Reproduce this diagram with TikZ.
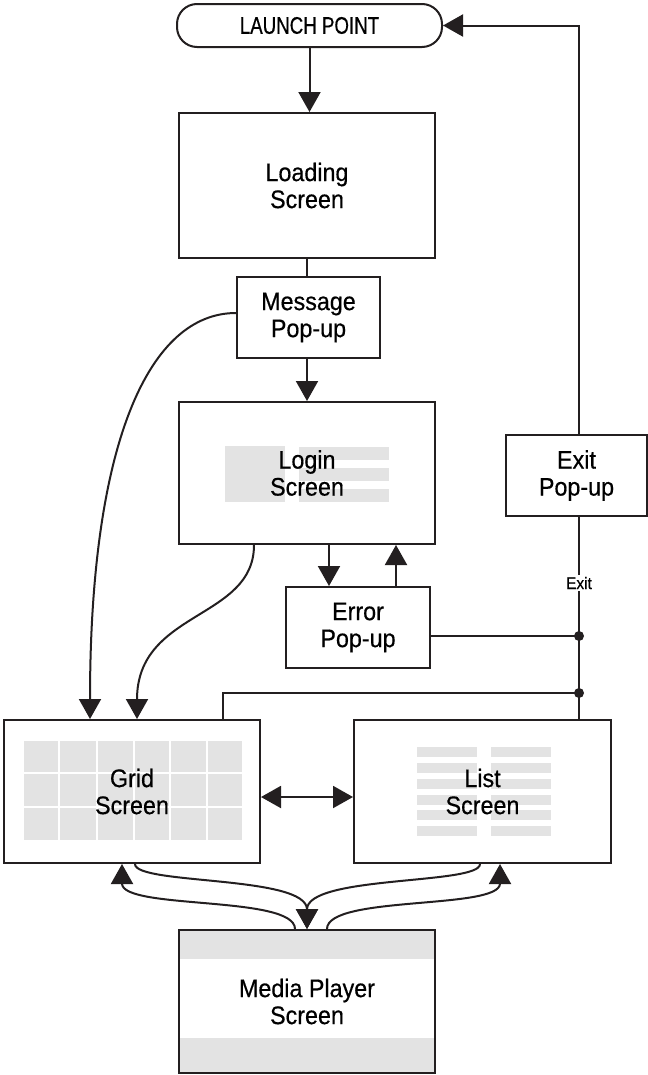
\documentclass[tikz,border=0pt]{standalone}
\usepackage{fontspec}
\setmainfont{Liberation Sans}[FakeStretch=0.92,FakeBold=0.5]
\newfontfamily\launchfont{Liberation Sans}[FakeStretch=0.78,FakeBold=0.5]
\usetikzlibrary{arrows.meta}
\definecolor{ink}{HTML}{231F20}
\definecolor{panelgray}{HTML}{E3E3E3}
\newcommand{\mainfs}{\fontsize{19}{20.25}\selectfont}
\begin{document}
\begin{tikzpicture}[x=0.75pt,y=-0.75pt,
  box/.style={draw=ink, line width=1.5pt, align=center, inner sep=0pt, font=\mainfs, text=black},
  link/.style={draw=ink, line width=1.5pt},
  arr/.style={link, -{Triangle[width=16.5pt,length=15pt]}},
  darr/.style={link, {Triangle[width=16.5pt,length=15pt]}-{Triangle[width=16.5pt,length=15pt]}},
  dot/.style={fill=ink},
  panel/.style={fill=panelgray}]
\useasboundingbox (0,0) rectangle (648,1075);

% gray decorations
\fill[panel] (225,446) rectangle (285,502);
\fill[panel] (299,447) rectangle (389,460);
\fill[panel] (299,468) rectangle (389,481);
\fill[panel] (299,489) rectangle (389,502);
\fill[panel] (24,741) rectangle (242,840);
\foreach \x in {59.3,96.7,134,170,206.7}
  \draw[white, line width=1.5pt] (\x,741) -- (\x,840);
\foreach \y in {773,807}
  \draw[white, line width=1.5pt] (24,\y) -- (242,\y);
\foreach \y in {747,763,779,794.5,810,826} {
  \fill[panel] (417,\y) rectangle (477,{\y+10});
  \fill[panel] (491,\y) rectangle (551,{\y+10});
}
\fill[panel] (179,930) rectangle (435,959);
\fill[panel] (179,1038) rectangle (435,1073);

% nodes
\node[box, minimum width=198.75pt, minimum height=32.25pt, rounded corners=15pt,
      font=\launchfont\fontsize{18}{20}\selectfont] (launch) at (309.5,25.5) {LAUNCH POINT};
\node[box, minimum width=192pt, minimum height=108.75pt] (load) at (307,185.5) {Loading\\Screen};
\node[box, minimum width=107.25pt, minimum height=60.75pt] (msg) at (308.5,317.5) {Message\\Pop-up};
\node[box, minimum width=192pt, minimum height=106.5pt] (login) at (307,473) {Login\\Screen};
\node[box, minimum width=108pt, minimum height=60.75pt] (error) at (358,627.5) {Error\\Pop-up};
\node[box, minimum width=105.75pt, minimum height=60.75pt] (exit) at (576.5,475.5) {Exit\\Pop-up};
\node[box, minimum width=192pt, minimum height=107.25pt] (grid) at (132,791.5) {Grid\\Screen};
\node[box, minimum width=192.75pt, minimum height=107.25pt] (list) at (482.5,791.5) {List\\Screen};
\node[box, minimum width=192pt, minimum height=107.25pt] (media) at (307,1001.5) {Media Player\\Screen};
\node[fill=white, inner sep=1.5pt, text=black, font=\fontsize{12.6}{13}\selectfont] (exitlbl) at (579,583) {Exit};

% helper coordinates
\coordinate (ex) at (579,0);
\coordinate (e1) at (329,0);
\coordinate (e2) at (396,0);
\coordinate (gy) at (0,797);
\coordinate (j1) at (579,636);
\coordinate (j2) at (579,693);
\coordinate (gx) at (223,0);
\coordinate (m1) at (0,313);
\coordinate (g1) at (90,0);
\coordinate (g2) at (137,0);
\coordinate (l1) at (254,0);
\coordinate (b1) at (135,0);
\coordinate (b2) at (480,0);
\coordinate (b3) at (307,0);
\coordinate (b4) at (295,0);
\coordinate (b5) at (122,0);
\coordinate (b6) at (327,0);
\coordinate (b7) at (500,0);

% connectors
\draw[arr] (launch.south) -- (launch.south |- load.north);
\draw[link] (load.south) -- (load.south |- msg.north);
\draw[arr] (login.north |- msg.south) -- (login.north);
\draw[arr] (login.south -| e1) -- (error.north -| e1);
\draw[arr] (error.north -| e2) -- (login.south -| e2);
\draw[darr] (grid.east |- gy) -- (list.west |- gy);

\draw[link] (exit.south -| ex) -- (exitlbl.north);
\draw[link] (exitlbl.south) -- (list.north -| ex);
\draw[link] (error.east |- j1) -- (j1);
\draw[link] (grid.north -| gx) -- (gx |- j2) -- (j2);
\fill[dot] (j1) circle (3.75pt);
\fill[dot] (j2) circle (3.75pt);
\draw[arr] (exit.north -| ex) |- (launch.east);

\draw[arr] (msg.west |- m1) .. controls (150,313) and (90,440) .. (grid.north -| g1);
\draw[arr] (login.south -| l1) .. controls (254,620) and (137,610) .. (grid.north -| g2);

\draw[arr] (grid.south -| b1) .. controls (135,885) and (307,875) .. (media.north -| b3);
\draw[arr] (list.south -| b2) .. controls (480,885) and (307,875) .. (media.north -| b3);
\draw[arr] (media.north -| b4) .. controls (295,895) and (122,910) .. (grid.south -| b5);
\draw[arr] (media.north -| b6) .. controls (327,895) and (500,910) .. (list.south -| b7);
\end{tikzpicture}
\end{document}
